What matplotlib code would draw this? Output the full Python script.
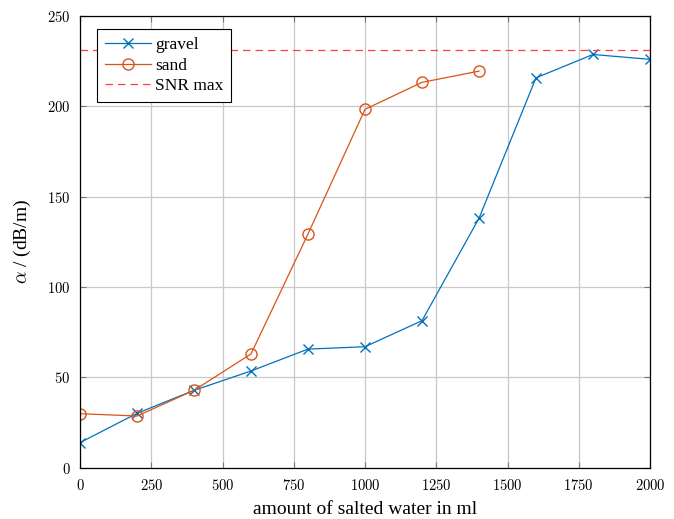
import numpy as np
import matplotlib.pyplot as plt
from matplotlib.ticker import FuncFormatter

plt.rcParams['font.family'] = ['Liberation Serif', 'DejaVu Serif']
plt.rcParams['mathtext.fontset'] = 'cm'

# datos
water_ml = [0, 200, 400, 600, 800, 1000, 1200, 1400, 1600, 1800, 2000]
gravel = [14.0, 30.2, 42.9, 53.6, 65.7, 67.0, 81.4, 138.0, 215.6, 228.5, 225.8]
sand_ml = [0, 200, 400, 600, 800, 1000, 1200, 1400]
sand = [30.0, 28.7, 42.9, 63.0, 129.3, 198.2, 213.1, 219.3]
snr_max = 231.0

fig = plt.figure(figsize=(6.74, 5.19), dpi=100)
ax = fig.add_axes([0.1187, 0.0983, 0.8457, 0.8717])

ax.plot(water_ml, gravel, color='#0072BD', marker='x', markersize=6.5,
        linewidth=0.9, label='gravel')
ax.plot(sand_ml, sand, color='#D95319', marker='o', markersize=8,
        markerfacecolor='none', linewidth=0.9, label='sand')
ax.axhline(snr_max, color='#FF4040', linestyle=(0, (6, 4)), linewidth=0.9,
           label='SNR max')

ax.set_xlim(0, 2000)
ax.set_ylim(0, 250)
ax.set_xticks(np.arange(0, 2001, 250))
ax.set_yticks(np.arange(0, 251, 50))
fmt = FuncFormatter(lambda v, p: r'$%d$' % v)
ax.xaxis.set_major_formatter(fmt)
ax.yaxis.set_major_formatter(fmt)
ax.grid(True, color='#c8c8c8', linewidth=0.9)
ax.set_axisbelow(True)
ax.tick_params(direction='in', length=4, top=True, right=True,
               labelsize=10.5, color='#777777', pad=7)
for s in ax.spines.values():
    s.set_linewidth(0.9)

ax.set_xlabel('amount of salted water in ml', fontsize=14, labelpad=6)
ax.set_ylabel(r'$\alpha$ / (dB/m)', fontsize=14, labelpad=10)

leg = ax.legend(loc='upper left', bbox_to_anchor=(0.0298, 0.970), fontsize=12.5,
                fancybox=False, framealpha=1, edgecolor='black',
                borderaxespad=0, borderpad=0.45, handlelength=2.65,
                handletextpad=0.25, labelspacing=0.25)
leg.get_frame().set_linewidth(0.8)

plt.savefig('out.png', dpi=100)
